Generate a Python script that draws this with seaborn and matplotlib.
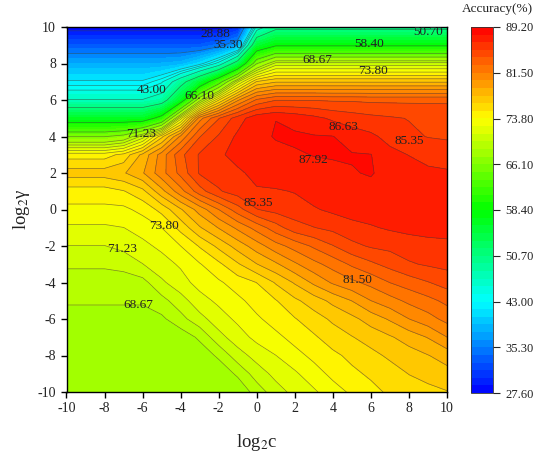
import numpy as np
import pandas as pd
import matplotlib
matplotlib.use("Agg")
import matplotlib.pyplot as plt
import seaborn as sns

log2c = [-10, -9, -8, -7, -6, -5, -4, -3, -2, -1, 0, 1, 2, 3, 4, 5, 6, 7, 8, 9, 10]
log2gamma = [10, 9, 8, 7, 6, 5, 4, 3, 2, 1, 0, -1, -2, -3, -4, -5, -6, -7, -8, -9, -10]

# accuracy, one row per log2(gamma), top row first
g_p10 = [27.8, 27.8, 27.8, 27.8, 27.8, 27.8, 27.8, 27.8, 27.9, 30.0, 45.0, 49.5, 49.5, 49.5, 49.5, 49.5, 49.5, 49.5, 49.5, 49.5, 49.5]
g_p9 = [33.0, 33.0, 33.0, 33.0, 33.0, 33.0, 33.0, 33.0, 34.5, 37.5, 55.0, 58.0, 58.0, 58.0, 58.0, 58.0, 58.0, 58.0, 58.0, 58.0, 58.0]
g_p8 = [38.0, 38.0, 38.0, 38.0, 38.0, 38.0, 38.5, 41.0, 45.0, 53.0, 66.0, 70.5, 70.5, 70.5, 70.5, 70.5, 70.5, 70.5, 70.5, 70.5, 70.5]
g_p7 = [42.0, 42.0, 42.0, 42.0, 42.0, 44.0, 49.0, 55.0, 62.0, 71.0, 76.5, 77.5, 77.5, 77.5, 77.5, 77.5, 77.5, 77.5, 77.5, 77.5, 77.5]
g_p6 = [47.0, 47.0, 47.0, 47.0, 47.0, 48.5, 56.0, 68.0, 75.0, 80.0, 83.0, 84.0, 84.0, 84.0, 83.9, 83.9, 83.8, 83.8, 83.8, 83.8, 83.8]
g_p5 = [56.0, 56.0, 56.0, 56.0, 56.0, 60.0, 72.0, 81.0, 84.0, 86.0, 87.5, 87.9, 87.5, 87.0, 86.4, 86.0, 85.7, 85.5, 85.3, 85.2, 85.1]
g_p4 = [66.0, 66.0, 66.0, 67.0, 70.5, 76.0, 80.5, 84.0, 85.5, 86.9, 87.6, 88.0, 88.1, 88.0, 87.95, 87.3, 86.9, 86.2, 85.6, 85.3, 85.2]
g_p3 = [74.5, 74.5, 74.5, 75.5, 78.0, 80.8, 83.7, 85.5, 86.4, 87.1, 87.4, 87.6, 87.8, 87.95, 88.0, 88.0, 87.95, 87.0, 86.6, 86.2, 86.0]
g_p2 = [77.0, 77.0, 77.0, 77.5, 78.8, 81.0, 83.2, 85.5, 86.0, 86.4, 87.0, 87.4, 87.5, 87.6, 87.7, 87.85, 88.0, 87.5, 87.2, 86.9, 86.8]
g_p1 = [74.5, 74.5, 74.5, 75.0, 76.0, 78.5, 81.0, 83.5, 85.2, 86.0, 86.5, 86.5, 86.7, 87.2, 87.4, 87.5, 87.6, 87.6, 87.6, 87.6, 87.6]
g_0 = [73.5, 73.5, 73.5, 73.5, 74.2, 75.5, 77.5, 79.5, 81.5, 83.5, 85.3, 85.8, 86.1, 86.5, 86.9, 87.2, 87.3, 87.4, 87.4, 87.4, 87.4]
g_m1 = [72.3, 72.3, 72.3, 72.5, 73.0, 73.8, 75.5, 77.5, 79.0, 80.5, 82.0, 83.5, 84.8, 85.3, 85.7, 86.2, 86.5, 86.8, 87.0, 87.0, 87.0]
g_m2 = [71.2, 71.2, 71.2, 71.6, 72.2, 72.8, 73.8, 75.2, 76.7, 78.2, 79.6, 81.0, 82.0, 83.0, 84.0, 85.0, 85.5, 85.7, 86.0, 86.3, 86.4]
g_m3 = [70.2, 70.2, 70.2, 70.4, 71.2, 72.0, 72.7, 73.7, 74.8, 76.2, 77.6, 78.7, 80.0, 81.1, 82.0, 83.0, 83.8, 84.5, 85.2, 85.5, 85.7]
g_m4 = [69.2, 69.2, 69.2, 69.3, 69.5, 71.0, 72.0, 73.0, 73.6, 74.4, 75.1, 76.5, 77.8, 79.2, 80.4, 81.2, 81.9, 82.8, 83.4, 84.0, 84.6]
g_m5 = [68.9, 68.9, 68.9, 68.9, 68.9, 69.5, 70.7, 72.0, 72.8, 73.5, 74.3, 75.0, 76.1, 77.0, 78.0, 78.95, 80.2, 81.0, 81.8, 82.4, 83.1]
g_m6 = [67.9, 67.9, 67.9, 67.9, 67.9, 68.4, 69.5, 70.8, 71.9, 72.8, 73.6, 74.3, 75.0, 75.8, 76.6, 77.3, 78.2, 79.1, 80.2, 81.0, 81.9]
g_m7 = [67.7, 67.7, 67.7, 67.7, 67.7, 67.7, 67.9, 68.9, 70.8, 71.9, 72.9, 73.5, 74.2, 74.9, 75.7, 76.3, 76.9, 77.5, 78.2, 79.0, 80.2]
g_m8 = [67.6, 67.6, 67.6, 67.6, 67.6, 67.6, 67.6, 67.9, 68.9, 70.7, 71.7, 72.5, 73.4, 74.1, 74.8, 75.4, 76.0, 76.6, 77.1, 77.6, 78.2]
g_m9 = [67.6, 67.6, 67.6, 67.6, 67.6, 67.6, 67.6, 67.6, 67.8, 68.9, 70.6, 71.6, 72.3, 73.3, 74.1, 74.8, 75.3, 75.8, 76.4, 76.8, 77.2]
g_m10 = [67.6, 67.6, 67.6, 67.6, 67.6, 67.6, 67.6, 67.6, 67.6, 67.7, 69.2, 70.7, 71.6, 72.3, 73.3, 74.0, 74.7, 75.3, 75.7, 76.0, 76.3]

acc_rows = [g_p10, g_p9, g_p8, g_p7, g_p6, g_p5, g_p4, g_p3, g_p2, g_p1, g_0,
            g_m1, g_m2, g_m3, g_m4, g_m5, g_m6, g_m7, g_m8, g_m9, g_m10]

cbar_ticks = [27.60, 35.30, 43.00, 50.70, 58.40, 66.10, 73.80, 81.50, 89.20]

label_text = ["28.88", "35.30", "50.70", "58.40", "68.67", "73.80", "43.00", "66.10",
              "86.63", "85.35", "71.23", "87.92", "85.35", "73.80", "71.23", "81.50", "68.67"]
label_c = [-2.2, -1.5, 9.0, 5.9, 3.2, 6.1, -5.5, -3.0, 4.55, 8.0, -6.1, 3.0, 0.1, -4.9, -7.1, 5.3, -6.2]
label_g = [9.6, 9.0, 9.7, 9.05, 8.2, 7.6, 6.55, 6.2, 4.5, 3.75, 4.15, 2.7, 0.35, -0.9, -2.15, -3.85, -5.25]

sns.set_theme(style="ticks")
plt.rcParams["font.family"] = ["Liberation Serif", "DejaVu Sans"]
plt.rcParams["mathtext.fontset"] = "stix"
plt.rcParams["axes.unicode_minus"] = False

df = pd.DataFrame(acc_rows, index=log2gamma, columns=log2c)

# 48 filled bands, 6 between each colorbar tick
levels = np.linspace(27.6, 89.2, 49)
# the blue/green end of the original only has a few contour lines
line_idx = [1, 6, 11, 12, 13, 15, 18, 24, 28, 30] + list(range(32, 48))
line_levels = levels[line_idx]
cmap = sns.blend_palette(["#0000ff", "#00ffff", "#00ff00", "#ffff00", "#ff0000"], n_colors=48, as_cmap=True)

fig = plt.figure(figsize=(5.35, 4.59), dpi=100)
ax = fig.add_axes([66.5 / 535, 1 - 392 / 459, 380.5 / 535, 365 / 459])
cax = fig.add_axes([471 / 535, 1 - 393 / 459, 22 / 535, 366 / 459])

filled = ax.contourf(df.columns, df.index, df.values, levels=levels, cmap=cmap)
ax.contour(df.columns, df.index, df.values, levels=line_levels, colors="#3a3a3a", linewidths=0.5, alpha=0.6)

for txt, c, g in zip(label_text, label_c, label_g):
    ax.text(c, g, txt, fontsize=9.5, color="#222222", ha="center", va="center")

ax.set_xlim(-10, 10)
ax.set_ylim(-10, 10)
ax.set_xticks(range(-10, 11, 2))
ax.set_yticks(range(-10, 11, 2))
ax.tick_params(labelsize=10, length=4.5, width=1, color="black", labelcolor="#222222", pad=3)
ax.set_xlabel("log$_2$c", fontsize=13.5, color="#222222", labelpad=12)
ax.set_ylabel("log$_2$γ", fontsize=13.5, color="#222222", labelpad=4)
for s in ax.spines.values():
    s.set_linewidth(1)
    s.set_color("black")

cb = fig.colorbar(filled, cax=cax, ticks=cbar_ticks, format="%.2f")
cb.outline.set_linewidth(0.6)
cb.outline.set_edgecolor("#333333")
cax.tick_params(labelsize=9, length=5, width=0.8, labelcolor="#222222", pad=4)
cax.minorticks_off()
fig.text(497 / 535, 1 - 9 / 459, "Accuracy(%)", fontsize=9.5, color="#222222", ha="center", va="center")

fig.savefig("out.png", dpi=100)
plt.close(fig)
